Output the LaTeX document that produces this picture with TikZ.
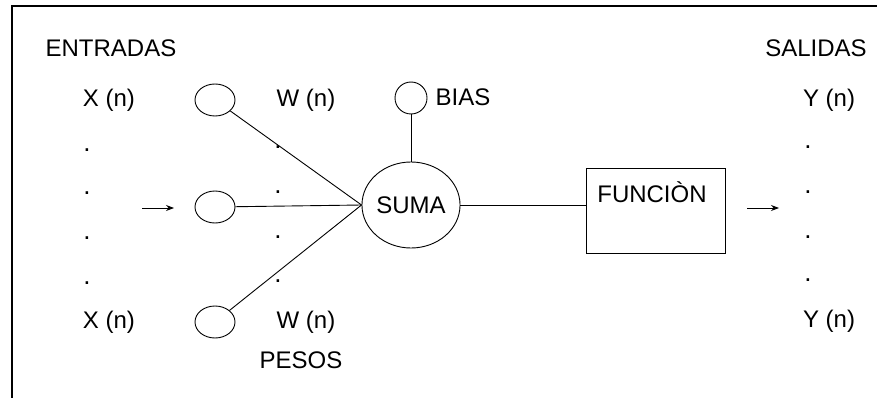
\documentclass[tikz,border=0pt]{standalone}
\usepackage{fontspec}
\setmainfont{Liberation Sans}
\usetikzlibrary{shapes.geometric,arrows.meta}
\begin{document}
\begin{tikzpicture}[x=1pt,y=-1pt,
  txt/.style={inner sep=0pt,font=\fontsize{24}{28}\selectfont},
  dotl/.style={inner sep=0pt,font=\fontsize{26}{28}\selectfont},
  inp/.style={draw,ellipse,inner sep=0pt,minimum width=40,minimum height=32,line width=0.9pt},
  conn/.style={line width=0.9pt},
  arr/.style={line width=0.9pt,-{Stealth[length=8pt,width=6pt]}}]
\useasboundingbox (0,0) rectangle (877,398);
% frame
\draw[line width=2pt] (11.5,398) -- (11.5,6) -- (877,6);
% headers
\node[txt] (entradas) at (111,48) {ENTRADAS};
\node[txt] (salidas) at (816,48) {SALIDAS};
% inputs
\node[txt] (x1) at (109,100) {X (n)};
\node[txt] (x2) at (109,322) {X (n)};
\foreach \y [count=\i] in {150,193,238,283}{\node[dotl] (ld\i) at (87,\y) {.};}
\node[inp] (e1) at (215,100) {};
\node[inp] (e2) at (215,207) {};
\node[inp] (e3) at (215,322) {};
\coordinate (as) at (142,208);
\coordinate (ae) at (174,208);
\draw[arr] (as) -- (ae);
% weights
\node[txt] (w1) at (306,100) {W (n)};
\node[txt] (w2) at (306,322) {W (n)};
\foreach \y [count=\i] in {147,192,237,281}{\node[dotl] (md\i) at (278,\y) {.};}
\node[txt] (pesos) at (301,360) {PESOS};
% sum
\node[draw,ellipse,inner sep=0pt,minimum width=92,minimum height=86,line width=0.9pt,font=\fontsize{24}{28}\selectfont] (suma) at (411,205) {SUMA};
\node[draw,circle,inner sep=0pt,minimum size=32,line width=0.9pt] (bias) at (411,98) {};
\node[txt] (biast) at (463,97) {BIAS};
\draw[conn] (e1) -- (suma.west);
\draw[conn] (e2) -- (suma.west);
\draw[conn] (e3) -- (suma.west);
\draw[conn] (bias) -- (suma);
% function
\node[draw,rectangle,inner sep=0pt,minimum width=139,minimum height=85,line width=0.9pt] (fbox) at (655.5,210.5) {};
\node[txt] (ftext) at (652,192) {FUNCIÒN};
\draw[conn] (suma.east) -- (suma.east -| fbox.west);
\coordinate (bs) at (747,208);
\coordinate (be) at (779,208);
\draw[arr] (bs) -- (be);
% outputs
\node[txt] (y1) at (829,100) {Y (n)};
\node[txt] (y2) at (829,321) {Y (n)};
\foreach \y [count=\i] in {147,192,237,280}{\node[dotl] (rd\i) at (808,\y) {.};}
\end{tikzpicture}
\end{document}
